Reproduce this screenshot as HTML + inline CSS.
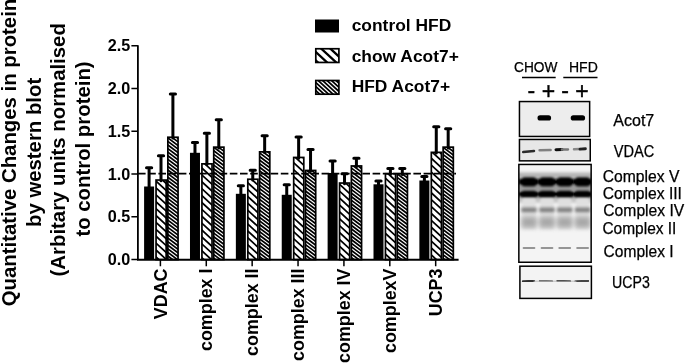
<!DOCTYPE html>
<html><head><meta charset="utf-8"><title>figure</title>
<style>
html,body{margin:0;padding:0;background:#fff;}
svg{display:block;}
text{font-family:"Liberation Sans",Arial,sans-serif;fill:#000;}
.b{font-weight:bold;}
</style></head><body>
<svg width="685" height="363" viewBox="0 0 685 363">
<defs>
<filter id="bl1" x="-20%" y="-50%" width="140%" height="200%"><feGaussianBlur stdDeviation="0.8"/></filter>
<filter id="bl05" x="-20%" y="-100%" width="140%" height="300%"><feGaussianBlur stdDeviation="0.5"/></filter>
<filter id="bl2" x="-20%" y="-50%" width="140%" height="200%"><feGaussianBlur stdDeviation="1.4"/></filter>
<filter id="bl3" x="-20%" y="-50%" width="140%" height="200%"><feGaussianBlur stdDeviation="2.5"/></filter>
<clipPath id="cpx"><rect x="518.85" y="164.45" width="72.3" height="97.8"/></clipPath>
</defs>
<rect width="685" height="363" fill="#fff"/>

<g class="b" font-size="20.35" text-anchor="middle">
<text transform="translate(16.1,152.5) rotate(-90)">Quantitative Changes in protein</text>
<text transform="translate(40.7,152.4) rotate(-90)">by western blot</text>
<text transform="translate(65.1,149.8) rotate(-90)">(Arbitary units normalised</text>
<text transform="translate(89.6,149.0) rotate(-90)">to control protein)</text>
</g>
<g class="b" font-size="16.2" text-anchor="end">
<text x="130.3" y="265.1">0.0</text>
<text x="130.3" y="222.4">0.5</text>
<text x="130.3" y="179.6">1.0</text>
<text x="130.3" y="136.9">1.5</text>
<text x="130.3" y="94.1">2.0</text>
<text x="130.3" y="51.4">2.5</text>
</g>
<rect x="144.10" y="186.5" width="10.0" height="73.1" fill="#000"/>
<clipPath id="c16"><rect x="156.05" y="180.05" width="10.1" height="79.55"/></clipPath>
<rect x="156.05" y="180.05" width="10.1" height="79.55" fill="#fff"/>
<path clip-path="url(#c16)" d="M155.05 159.45L167.15 170.58M155.05 166.35L167.15 177.48M155.05 173.25L167.15 184.38M155.05 180.15L167.15 191.28M155.05 187.05L167.15 198.18M155.05 193.95L167.15 205.08M155.05 200.85L167.15 211.98M155.05 207.75L167.15 218.88M155.05 214.65L167.15 225.78M155.05 221.55L167.15 232.68M155.05 228.45L167.15 239.58M155.05 235.35L167.15 246.48M155.05 242.25L167.15 253.38M155.05 249.15L167.15 260.28M155.05 256.05L167.15 267.18M155.05 262.95L167.15 274.08M155.05 269.85L167.15 280.98" stroke="#000" stroke-width="1.75" fill="none"/>
<rect x="156.05" y="180.05" width="10.1" height="79.55" fill="none" stroke="#000" stroke-width="1.7"/>
<clipPath id="c20"><rect x="167.85" y="137.25" width="10.2" height="122.35"/></clipPath>
<rect x="167.85" y="137.25" width="10.2" height="122.35" fill="#fff"/>
<path clip-path="url(#c20)" d="M166.85 122.76L179.05 131.91M166.85 126.34L179.05 135.49M166.85 129.92L179.05 139.07M166.85 133.50L179.05 142.65M166.85 137.08L179.05 146.23M166.85 140.66L179.05 149.81M166.85 144.24L179.05 153.39M166.85 147.82L179.05 156.97M166.85 151.40L179.05 160.55M166.85 154.98L179.05 164.13M166.85 158.56L179.05 167.71M166.85 162.14L179.05 171.29M166.85 165.72L179.05 174.87M166.85 169.30L179.05 178.45M166.85 172.88L179.05 182.03M166.85 176.46L179.05 185.61M166.85 180.04L179.05 189.19M166.85 183.62L179.05 192.77M166.85 187.20L179.05 196.35M166.85 190.78L179.05 199.93M166.85 194.36L179.05 203.51M166.85 197.94L179.05 207.09M166.85 201.52L179.05 210.67M166.85 205.10L179.05 214.25M166.85 208.68L179.05 217.83M166.85 212.26L179.05 221.41M166.85 215.84L179.05 224.99M166.85 219.42L179.05 228.57M166.85 223.00L179.05 232.15M166.85 226.58L179.05 235.73M166.85 230.16L179.05 239.31M166.85 233.74L179.05 242.89M166.85 237.32L179.05 246.47M166.85 240.90L179.05 250.05M166.85 244.48L179.05 253.63M166.85 248.06L179.05 257.21M166.85 251.64L179.05 260.79M166.85 255.22L179.05 264.37M166.85 258.80L179.05 267.95M166.85 262.38L179.05 271.53M166.85 265.96L179.05 275.11" stroke="#000" stroke-width="1.7" fill="none"/>
<rect x="167.85" y="137.25" width="10.2" height="122.35" fill="none" stroke="#000" stroke-width="1.7"/>
<path d="M149.10 188.0 V167.7 M146.50 167.7 H151.70" stroke="#000" stroke-width="3.0" fill="none" stroke-linecap="round"/>
<path d="M161.00 180.8 V155.7 M158.40 155.7 H163.60" stroke="#000" stroke-width="3.0" fill="none" stroke-linecap="round"/>
<path d="M172.90 138.0 V94.1 M170.30 94.1 H175.50" stroke="#000" stroke-width="3.0" fill="none" stroke-linecap="round"/>
<rect x="189.98" y="152.8" width="10.0" height="106.8" fill="#000"/>
<clipPath id="c28"><rect x="201.93" y="163.85" width="10.1" height="95.75"/></clipPath>
<rect x="201.93" y="163.85" width="10.1" height="95.75" fill="#fff"/>
<path clip-path="url(#c28)" d="M200.93 146.46L213.03 157.59M200.93 153.36L213.03 164.49M200.93 160.26L213.03 171.39M200.93 167.16L213.03 178.29M200.93 174.06L213.03 185.19M200.93 180.96L213.03 192.09M200.93 187.86L213.03 198.99M200.93 194.76L213.03 205.89M200.93 201.66L213.03 212.79M200.93 208.56L213.03 219.69M200.93 215.46L213.03 226.59M200.93 222.36L213.03 233.49M200.93 229.26L213.03 240.39M200.93 236.16L213.03 247.29M200.93 243.06L213.03 254.19M200.93 249.96L213.03 261.09M200.93 256.86L213.03 267.99M200.93 263.76L213.03 274.89M200.93 270.66L213.03 281.79" stroke="#000" stroke-width="1.75" fill="none"/>
<rect x="201.93" y="163.85" width="10.1" height="95.75" fill="none" stroke="#000" stroke-width="1.7"/>
<clipPath id="c32"><rect x="213.73" y="147.15" width="10.2" height="112.45"/></clipPath>
<rect x="213.73" y="147.15" width="10.2" height="112.45" fill="#fff"/>
<path clip-path="url(#c32)" d="M212.73 132.11L224.93 141.26M212.73 135.69L224.93 144.84M212.73 139.27L224.93 148.42M212.73 142.85L224.93 152.00M212.73 146.43L224.93 155.58M212.73 150.01L224.93 159.16M212.73 153.59L224.93 162.74M212.73 157.17L224.93 166.32M212.73 160.75L224.93 169.90M212.73 164.33L224.93 173.48M212.73 167.91L224.93 177.06M212.73 171.49L224.93 180.64M212.73 175.07L224.93 184.22M212.73 178.65L224.93 187.80M212.73 182.23L224.93 191.38M212.73 185.81L224.93 194.96M212.73 189.39L224.93 198.54M212.73 192.97L224.93 202.12M212.73 196.55L224.93 205.70M212.73 200.13L224.93 209.28M212.73 203.71L224.93 212.86M212.73 207.29L224.93 216.44M212.73 210.87L224.93 220.02M212.73 214.45L224.93 223.60M212.73 218.03L224.93 227.18M212.73 221.61L224.93 230.76M212.73 225.19L224.93 234.34M212.73 228.77L224.93 237.92M212.73 232.35L224.93 241.50M212.73 235.93L224.93 245.08M212.73 239.51L224.93 248.66M212.73 243.09L224.93 252.24M212.73 246.67L224.93 255.82M212.73 250.25L224.93 259.40M212.73 253.83L224.93 262.98M212.73 257.41L224.93 266.56M212.73 260.99L224.93 270.14M212.73 264.57L224.93 273.72" stroke="#000" stroke-width="1.7" fill="none"/>
<rect x="213.73" y="147.15" width="10.2" height="112.45" fill="none" stroke="#000" stroke-width="1.7"/>
<path d="M194.98 154.3 V142.6 M192.38 142.6 H197.58" stroke="#000" stroke-width="3.0" fill="none" stroke-linecap="round"/>
<path d="M206.88 164.6 V133.2 M204.28 133.2 H209.48" stroke="#000" stroke-width="3.0" fill="none" stroke-linecap="round"/>
<path d="M218.78 147.9 V119.8 M216.18 119.8 H221.38" stroke="#000" stroke-width="3.0" fill="none" stroke-linecap="round"/>
<rect x="235.86" y="193.8" width="10.0" height="65.8" fill="#000"/>
<clipPath id="c40"><rect x="247.81" y="179.25" width="10.1" height="80.35"/></clipPath>
<rect x="247.81" y="179.25" width="10.1" height="80.35" fill="#fff"/>
<path clip-path="url(#c40)" d="M246.81 161.07L258.91 172.20M246.81 167.97L258.91 179.10M246.81 174.87L258.91 186.00M246.81 181.77L258.91 192.90M246.81 188.67L258.91 199.80M246.81 195.57L258.91 206.70M246.81 202.47L258.91 213.60M246.81 209.37L258.91 220.50M246.81 216.27L258.91 227.40M246.81 223.17L258.91 234.30M246.81 230.07L258.91 241.20M246.81 236.97L258.91 248.10M246.81 243.87L258.91 255.00M246.81 250.77L258.91 261.90M246.81 257.67L258.91 268.80M246.81 264.57L258.91 275.70M246.81 271.47L258.91 282.60" stroke="#000" stroke-width="1.75" fill="none"/>
<rect x="247.81" y="179.25" width="10.1" height="80.35" fill="none" stroke="#000" stroke-width="1.7"/>
<clipPath id="c44"><rect x="259.61" y="151.85" width="10.2" height="107.75"/></clipPath>
<rect x="259.61" y="151.85" width="10.2" height="107.75" fill="#fff"/>
<path clip-path="url(#c44)" d="M258.61 137.88L270.81 147.03M258.61 141.46L270.81 150.61M258.61 145.04L270.81 154.19M258.61 148.62L270.81 157.77M258.61 152.20L270.81 161.35M258.61 155.78L270.81 164.93M258.61 159.36L270.81 168.51M258.61 162.94L270.81 172.09M258.61 166.52L270.81 175.67M258.61 170.10L270.81 179.25M258.61 173.68L270.81 182.83M258.61 177.26L270.81 186.41M258.61 180.84L270.81 189.99M258.61 184.42L270.81 193.57M258.61 188.00L270.81 197.15M258.61 191.58L270.81 200.73M258.61 195.16L270.81 204.31M258.61 198.74L270.81 207.89M258.61 202.32L270.81 211.47M258.61 205.90L270.81 215.05M258.61 209.48L270.81 218.63M258.61 213.06L270.81 222.21M258.61 216.64L270.81 225.79M258.61 220.22L270.81 229.37M258.61 223.80L270.81 232.95M258.61 227.38L270.81 236.53M258.61 230.96L270.81 240.11M258.61 234.54L270.81 243.69M258.61 238.12L270.81 247.27M258.61 241.70L270.81 250.85M258.61 245.28L270.81 254.43M258.61 248.86L270.81 258.01M258.61 252.44L270.81 261.59M258.61 256.02L270.81 265.17M258.61 259.60L270.81 268.75M258.61 263.18L270.81 272.33" stroke="#000" stroke-width="1.7" fill="none"/>
<rect x="259.61" y="151.85" width="10.2" height="107.75" fill="none" stroke="#000" stroke-width="1.7"/>
<path d="M240.86 195.3 V185.8 M238.26 185.8 H243.46" stroke="#000" stroke-width="3.0" fill="none" stroke-linecap="round"/>
<path d="M252.76 180.0 V170.2 M250.16 170.2 H255.36" stroke="#000" stroke-width="3.0" fill="none" stroke-linecap="round"/>
<path d="M264.66 152.6 V135.8 M262.06 135.8 H267.26" stroke="#000" stroke-width="3.0" fill="none" stroke-linecap="round"/>
<rect x="281.74" y="194.8" width="10.0" height="64.8" fill="#000"/>
<clipPath id="c52"><rect x="293.69" y="157.45" width="10.1" height="102.15"/></clipPath>
<rect x="293.69" y="157.45" width="10.1" height="102.15" fill="#fff"/>
<path clip-path="url(#c52)" d="M292.69 134.27L304.79 145.41M292.69 141.17L304.79 152.31M292.69 148.07L304.79 159.21M292.69 154.97L304.79 166.11M292.69 161.87L304.79 173.01M292.69 168.77L304.79 179.91M292.69 175.67L304.79 186.81M292.69 182.57L304.79 193.71M292.69 189.47L304.79 200.61M292.69 196.37L304.79 207.51M292.69 203.27L304.79 214.41M292.69 210.17L304.79 221.31M292.69 217.07L304.79 228.21M292.69 223.97L304.79 235.11M292.69 230.87L304.79 242.01M292.69 237.77L304.79 248.91M292.69 244.67L304.79 255.81M292.69 251.57L304.79 262.71M292.69 258.47L304.79 269.61M292.69 265.37L304.79 276.51M292.69 272.27L304.79 283.41" stroke="#000" stroke-width="1.75" fill="none"/>
<rect x="293.69" y="157.45" width="10.1" height="102.15" fill="none" stroke="#000" stroke-width="1.7"/>
<clipPath id="c56"><rect x="305.49" y="170.45" width="10.2" height="89.15"/></clipPath>
<rect x="305.49" y="170.45" width="10.2" height="89.15" fill="#fff"/>
<path clip-path="url(#c56)" d="M304.49 157.97L316.69 167.12M304.49 161.55L316.69 170.70M304.49 165.13L316.69 174.28M304.49 168.71L316.69 177.86M304.49 172.29L316.69 181.44M304.49 175.87L316.69 185.02M304.49 179.45L316.69 188.60M304.49 183.03L316.69 192.18M304.49 186.61L316.69 195.76M304.49 190.19L316.69 199.34M304.49 193.77L316.69 202.92M304.49 197.35L316.69 206.50M304.49 200.93L316.69 210.08M304.49 204.51L316.69 213.66M304.49 208.09L316.69 217.24M304.49 211.67L316.69 220.82M304.49 215.25L316.69 224.40M304.49 218.83L316.69 227.98M304.49 222.41L316.69 231.56M304.49 225.99L316.69 235.14M304.49 229.57L316.69 238.72M304.49 233.15L316.69 242.30M304.49 236.73L316.69 245.88M304.49 240.31L316.69 249.46M304.49 243.89L316.69 253.04M304.49 247.47L316.69 256.62M304.49 251.05L316.69 260.20M304.49 254.63L316.69 263.78M304.49 258.21L316.69 267.36M304.49 261.79L316.69 270.94M304.49 265.37L316.69 274.52" stroke="#000" stroke-width="1.7" fill="none"/>
<rect x="305.49" y="170.45" width="10.2" height="89.15" fill="none" stroke="#000" stroke-width="1.7"/>
<path d="M286.74 196.3 V184.8 M284.14 184.8 H289.34" stroke="#000" stroke-width="3.0" fill="none" stroke-linecap="round"/>
<path d="M298.64 158.2 V137.1 M296.04 137.1 H301.24" stroke="#000" stroke-width="3.0" fill="none" stroke-linecap="round"/>
<path d="M310.54 171.2 V149.6 M307.94 149.6 H313.14" stroke="#000" stroke-width="3.0" fill="none" stroke-linecap="round"/>
<rect x="327.62" y="173.0" width="10.0" height="86.6" fill="#000"/>
<clipPath id="c64"><rect x="339.57" y="183.05" width="10.1" height="76.55"/></clipPath>
<rect x="339.57" y="183.05" width="10.1" height="76.55" fill="#fff"/>
<path clip-path="url(#c64)" d="M338.57 162.68L350.67 173.82M338.57 169.58L350.67 180.72M338.57 176.48L350.67 187.62M338.57 183.38L350.67 194.52M338.57 190.28L350.67 201.42M338.57 197.18L350.67 208.32M338.57 204.08L350.67 215.22M338.57 210.98L350.67 222.12M338.57 217.88L350.67 229.02M338.57 224.78L350.67 235.92M338.57 231.68L350.67 242.82M338.57 238.58L350.67 249.72M338.57 245.48L350.67 256.62M338.57 252.38L350.67 263.52M338.57 259.28L350.67 270.42M338.57 266.18L350.67 277.32" stroke="#000" stroke-width="1.75" fill="none"/>
<rect x="339.57" y="183.05" width="10.1" height="76.55" fill="none" stroke="#000" stroke-width="1.7"/>
<clipPath id="c68"><rect x="351.37" y="165.95" width="10.2" height="93.65"/></clipPath>
<rect x="351.37" y="165.95" width="10.2" height="93.65" fill="#fff"/>
<path clip-path="url(#c68)" d="M350.37 153.00L362.57 162.15M350.37 156.58L362.57 165.73M350.37 160.16L362.57 169.31M350.37 163.74L362.57 172.89M350.37 167.32L362.57 176.47M350.37 170.90L362.57 180.05M350.37 174.48L362.57 183.63M350.37 178.06L362.57 187.21M350.37 181.64L362.57 190.79M350.37 185.22L362.57 194.37M350.37 188.80L362.57 197.95M350.37 192.38L362.57 201.53M350.37 195.96L362.57 205.11M350.37 199.54L362.57 208.69M350.37 203.12L362.57 212.27M350.37 206.70L362.57 215.85M350.37 210.28L362.57 219.43M350.37 213.86L362.57 223.01M350.37 217.44L362.57 226.59M350.37 221.02L362.57 230.17M350.37 224.60L362.57 233.75M350.37 228.18L362.57 237.33M350.37 231.76L362.57 240.91M350.37 235.34L362.57 244.49M350.37 238.92L362.57 248.07M350.37 242.50L362.57 251.65M350.37 246.08L362.57 255.23M350.37 249.66L362.57 258.81M350.37 253.24L362.57 262.39M350.37 256.82L362.57 265.97M350.37 260.40L362.57 269.55M350.37 263.98L362.57 273.13" stroke="#000" stroke-width="1.7" fill="none"/>
<rect x="351.37" y="165.95" width="10.2" height="93.65" fill="none" stroke="#000" stroke-width="1.7"/>
<path d="M332.62 174.5 V160.9 M330.02 160.9 H335.22" stroke="#000" stroke-width="3.0" fill="none" stroke-linecap="round"/>
<path d="M344.52 183.8 V173.7 M341.92 173.7 H347.12" stroke="#000" stroke-width="3.0" fill="none" stroke-linecap="round"/>
<path d="M356.42 166.7 V158.2 M353.82 158.2 H359.02" stroke="#000" stroke-width="3.0" fill="none" stroke-linecap="round"/>
<rect x="373.50" y="184.3" width="10.0" height="75.3" fill="#000"/>
<clipPath id="c76"><rect x="385.45" y="173.75" width="10.1" height="85.85"/></clipPath>
<rect x="385.45" y="173.75" width="10.1" height="85.85" fill="#fff"/>
<path clip-path="url(#c76)" d="M384.45 156.59L396.55 167.73M384.45 163.49L396.55 174.63M384.45 170.39L396.55 181.53M384.45 177.29L396.55 188.43M384.45 184.19L396.55 195.33M384.45 191.09L396.55 202.23M384.45 197.99L396.55 209.13M384.45 204.89L396.55 216.03M384.45 211.79L396.55 222.93M384.45 218.69L396.55 229.83M384.45 225.59L396.55 236.73M384.45 232.49L396.55 243.63M384.45 239.39L396.55 250.53M384.45 246.29L396.55 257.43M384.45 253.19L396.55 264.33M384.45 260.09L396.55 271.23M384.45 266.99L396.55 278.13" stroke="#000" stroke-width="1.75" fill="none"/>
<rect x="385.45" y="173.75" width="10.1" height="85.85" fill="none" stroke="#000" stroke-width="1.7"/>
<clipPath id="c80"><rect x="397.25" y="173.75" width="10.2" height="85.85"/></clipPath>
<rect x="397.25" y="173.75" width="10.2" height="85.85" fill="#fff"/>
<path clip-path="url(#c80)" d="M396.25 158.77L408.45 167.92M396.25 162.35L408.45 171.50M396.25 165.93L408.45 175.08M396.25 169.51L408.45 178.66M396.25 173.09L408.45 182.24M396.25 176.67L408.45 185.82M396.25 180.25L408.45 189.40M396.25 183.83L408.45 192.98M396.25 187.41L408.45 196.56M396.25 190.99L408.45 200.14M396.25 194.57L408.45 203.72M396.25 198.15L408.45 207.30M396.25 201.73L408.45 210.88M396.25 205.31L408.45 214.46M396.25 208.89L408.45 218.04M396.25 212.47L408.45 221.62M396.25 216.05L408.45 225.20M396.25 219.63L408.45 228.78M396.25 223.21L408.45 232.36M396.25 226.79L408.45 235.94M396.25 230.37L408.45 239.52M396.25 233.95L408.45 243.10M396.25 237.53L408.45 246.68M396.25 241.11L408.45 250.26M396.25 244.69L408.45 253.84M396.25 248.27L408.45 257.42M396.25 251.85L408.45 261.00M396.25 255.43L408.45 264.58M396.25 259.01L408.45 268.16M396.25 262.59L408.45 271.74" stroke="#000" stroke-width="1.7" fill="none"/>
<rect x="397.25" y="173.75" width="10.2" height="85.85" fill="none" stroke="#000" stroke-width="1.7"/>
<path d="M378.50 185.8 V181.0 M375.90 181.0 H381.10" stroke="#000" stroke-width="3.0" fill="none" stroke-linecap="round"/>
<path d="M390.40 174.5 V168.5 M387.80 168.5 H393.00" stroke="#000" stroke-width="3.0" fill="none" stroke-linecap="round"/>
<path d="M402.30 174.5 V168.5 M399.70 168.5 H404.90" stroke="#000" stroke-width="3.0" fill="none" stroke-linecap="round"/>
<rect x="419.38" y="180.5" width="10.0" height="79.1" fill="#000"/>
<clipPath id="c88"><rect x="431.33" y="152.35" width="10.1" height="107.25"/></clipPath>
<rect x="431.33" y="152.35" width="10.1" height="107.25" fill="#fff"/>
<path clip-path="url(#c88)" d="M430.33 129.80L442.43 140.94M430.33 136.70L442.43 147.84M430.33 143.60L442.43 154.74M430.33 150.50L442.43 161.64M430.33 157.40L442.43 168.54M430.33 164.30L442.43 175.44M430.33 171.20L442.43 182.34M430.33 178.10L442.43 189.24M430.33 185.00L442.43 196.14M430.33 191.90L442.43 203.04M430.33 198.80L442.43 209.94M430.33 205.70L442.43 216.84M430.33 212.60L442.43 223.74M430.33 219.50L442.43 230.64M430.33 226.40L442.43 237.54M430.33 233.30L442.43 244.44M430.33 240.20L442.43 251.34M430.33 247.10L442.43 258.24M430.33 254.00L442.43 265.14M430.33 260.90L442.43 272.04M430.33 267.80L442.43 278.94" stroke="#000" stroke-width="1.75" fill="none"/>
<rect x="431.33" y="152.35" width="10.1" height="107.25" fill="none" stroke="#000" stroke-width="1.7"/>
<clipPath id="c92"><rect x="443.13" y="147.15" width="10.2" height="112.45"/></clipPath>
<rect x="443.13" y="147.15" width="10.2" height="112.45" fill="#fff"/>
<path clip-path="url(#c92)" d="M442.13 132.32L454.33 141.47M442.13 135.90L454.33 145.05M442.13 139.48L454.33 148.63M442.13 143.06L454.33 152.21M442.13 146.64L454.33 155.79M442.13 150.22L454.33 159.37M442.13 153.80L454.33 162.95M442.13 157.38L454.33 166.53M442.13 160.96L454.33 170.11M442.13 164.54L454.33 173.69M442.13 168.12L454.33 177.27M442.13 171.70L454.33 180.85M442.13 175.28L454.33 184.43M442.13 178.86L454.33 188.01M442.13 182.44L454.33 191.59M442.13 186.02L454.33 195.17M442.13 189.60L454.33 198.75M442.13 193.18L454.33 202.33M442.13 196.76L454.33 205.91M442.13 200.34L454.33 209.49M442.13 203.92L454.33 213.07M442.13 207.50L454.33 216.65M442.13 211.08L454.33 220.23M442.13 214.66L454.33 223.81M442.13 218.24L454.33 227.39M442.13 221.82L454.33 230.97M442.13 225.40L454.33 234.55M442.13 228.98L454.33 238.13M442.13 232.56L454.33 241.71M442.13 236.14L454.33 245.29M442.13 239.72L454.33 248.87M442.13 243.30L454.33 252.45M442.13 246.88L454.33 256.03M442.13 250.46L454.33 259.61M442.13 254.04L454.33 263.19M442.13 257.62L454.33 266.77M442.13 261.20L454.33 270.35M442.13 264.78L454.33 273.93" stroke="#000" stroke-width="1.7" fill="none"/>
<rect x="443.13" y="147.15" width="10.2" height="112.45" fill="none" stroke="#000" stroke-width="1.7"/>
<path d="M424.38 182.0 V176.5 M421.78 176.5 H426.98" stroke="#000" stroke-width="3.0" fill="none" stroke-linecap="round"/>
<path d="M436.28 153.1 V126.8 M433.68 126.8 H438.88" stroke="#000" stroke-width="3.0" fill="none" stroke-linecap="round"/>
<path d="M448.18 147.9 V128.8 M445.58 128.8 H450.78" stroke="#000" stroke-width="3.0" fill="none" stroke-linecap="round"/>
<path d="M137.9 45.2 V259.6" stroke="#000" stroke-width="1.8" fill="none"/>
<path d="M137.0 259.8 H458.6" stroke="#000" stroke-width="2.1" fill="none"/>
<path d="M131.4 259.60 H137.9 M131.4 216.85 H137.9 M131.4 174.10 H137.9 M131.4 131.35 H137.9 M131.4 88.60 H137.9 M131.4 45.85 H137.9 M160.40 259.6 V266.2 M206.28 259.6 V266.2 M252.16 259.6 V266.2 M298.04 259.6 V266.2 M343.92 259.6 V266.2 M389.80 259.6 V266.2 M435.68 259.6 V266.2 " stroke="#000" stroke-width="1.5" fill="none"/>
<path d="M138 173.6 H456" stroke="#000" stroke-width="1.6" stroke-dasharray="7.6 2.6" fill="none"/>
<g class="b" font-size="17.9" text-anchor="end">
<text transform="translate(166.60,268.5) rotate(-90)">VDAC</text>
<text transform="translate(212.48,268.5) rotate(-90)">complex I</text>
<text transform="translate(258.36,268.5) rotate(-90)">complex II</text>
<text transform="translate(304.24,268.5) rotate(-90)">complex III</text>
<text transform="translate(350.12,268.5) rotate(-90)">complex IV</text>
<text transform="translate(396.00,268.5) rotate(-90)">complexV</text>
<text transform="translate(441.88,268.5) rotate(-90)">UCP3</text>
</g>
<rect x="315" y="19.5" width="24" height="13" fill="#000"/>
<clipPath id="c113"><rect x="315.80" y="48.75" width="23.1" height="13.70"/></clipPath>
<rect x="315.80" y="48.75" width="23.1" height="13.70" fill="#fff"/>
<path clip-path="url(#c113)" d="M314.80 17.52L339.90 40.61M314.80 25.92L339.90 49.01M314.80 34.32L339.90 57.41M314.80 42.72L339.90 65.81M314.80 51.12L339.90 74.21M314.80 59.52L339.90 82.61M314.80 67.92L339.90 91.01M314.80 76.32L339.90 99.41" stroke="#000" stroke-width="2.3" fill="none"/>
<rect x="315.80" y="48.75" width="23.1" height="13.70" fill="none" stroke="#000" stroke-width="1.7"/>
<clipPath id="c117"><rect x="315.80" y="80.50" width="23.1" height="13.70"/></clipPath>
<rect x="315.80" y="80.50" width="23.1" height="13.70" fill="#fff"/>
<path clip-path="url(#c117)" d="M314.80 52.82L339.90 75.91M314.80 56.92L339.90 80.01M314.80 61.02L339.90 84.11M314.80 65.12L339.90 88.21M314.80 69.22L339.90 92.31M314.80 73.32L339.90 96.41M314.80 77.42L339.90 100.51M314.80 81.52L339.90 104.61M314.80 85.62L339.90 108.71M314.80 89.72L339.90 112.81M314.80 93.82L339.90 116.91M314.80 97.92L339.90 121.01" stroke="#000" stroke-width="1.75" fill="none"/>
<rect x="315.80" y="80.50" width="23.1" height="13.70" fill="none" stroke="#000" stroke-width="1.7"/>
<g class="b" font-size="17.4">
<text x="351.7" y="31.3">control HFD</text>
<text x="351.7" y="61.8">chow Acot7+</text>
<text x="351.7" y="92.4">HFD Acot7+</text>
</g>
<g font-size="14.6">
<text x="514.0" y="71.6" textLength="43.4" lengthAdjust="spacingAndGlyphs" stroke="#000" stroke-width="0.25">CHOW</text>
<text x="569.0" y="71.6" textLength="28.8" lengthAdjust="spacingAndGlyphs" stroke="#000" stroke-width="0.25">HFD</text>
</g>
<path d="M522 77.4 H555.7 M563.3 77.4 H597.5" stroke="#000" stroke-width="1.5"/>
<g font-size="23" text-anchor="middle" stroke="#000" stroke-width="0.4"><text x="531.4" y="98">-</text><text x="548.35" y="99.4">+</text><text x="565.1" y="98">-</text><text x="581.95" y="99.4">+</text></g>
<rect x="519.45" y="101.55" width="70.2" height="34.9" fill="#ededed" stroke="#000" stroke-width="1.5"/>
<g filter="url(#bl05)"><rect x="537.5" y="115.2" width="13.6" height="5.3" rx="2.6" fill="#000"/><rect x="570.7" y="115.2" width="14.4" height="5.3" rx="2.6" fill="#000"/></g>
<rect x="519.45" y="139.45" width="70.8" height="21.4" fill="#e7e7e7" stroke="#000" stroke-width="1.5"/>
<g filter="url(#bl05)" stroke-width="2.5" stroke-linecap="round" fill="none"><path d="M523.2 152.1 L534 150.9" stroke="#2a2a2a"/><path d="M539.6 150.3 L550.6 150" stroke="#808080"/><path d="M556 149.7 L562 149.6" stroke="#111" stroke-width="3"/><path d="M562 149.6 L568 149.4" stroke="#777"/><path d="M574 149.3 L580 149.1" stroke="#888"/><path d="M580 149.1 L585.4 148.8" stroke="#222" stroke-width="2.9"/></g>
<rect x="518.85" y="164.45" width="72.3" height="97.8" fill="#f4f4f4"/>
<g clip-path="url(#cpx)">
<rect x="515" y="172.5" width="80" height="6" fill="#b4b4b4" filter="url(#bl2)"/>
<rect x="515" y="185" width="80" height="6" fill="#9c9c9c" filter="url(#bl1)"/>
<rect x="515" y="196" width="80" height="6.5" fill="#bdbdbd" filter="url(#bl2)"/>
<g filter="url(#bl1)" fill="#000"><rect x="515" y="178.8" width="80" height="6" fill="#161616"/><rect x="520.5" y="177.2" width="17" height="9.2" rx="4.3"/><rect x="538.5" y="177.2" width="17" height="9.2" rx="4.3"/><rect x="556.2" y="177.2" width="17" height="9.2" rx="4.3"/><rect x="574.1" y="177.2" width="17" height="9.2" rx="4.3"/></g>
<g filter="url(#bl1)" fill="#000"><rect x="515" y="191.6" width="80" height="5" fill="#161616"/><rect x="520.5" y="190.4" width="17" height="7.6" rx="3.6"/><rect x="538.5" y="190.4" width="17" height="7.6" rx="3.6"/><rect x="556.2" y="190.4" width="17" height="7.6" rx="3.6"/><rect x="574.1" y="190.4" width="17" height="7.6" rx="3.6"/></g>
<g filter="url(#bl2)" fill="#e0e0e0"><rect x="522.0" y="198" width="14" height="31"/><rect x="540.0" y="198" width="14" height="31"/><rect x="557.7" y="198" width="14" height="31"/><rect x="575.6" y="198" width="14" height="31"/></g>
<g filter="url(#bl2)" fill="#808080"><rect x="521.4" y="207.6" width="15.2" height="4.6"/><rect x="539.4" y="207.6" width="15.2" height="4.6"/><rect x="557.1" y="207.6" width="15.2" height="4.6"/><rect x="575.0" y="207.6" width="15.2" height="4.6"/></g>
<g filter="url(#bl3)" fill="#a8a8a8"><rect x="521.5" y="217" width="15" height="10.5"/><rect x="539.5" y="217" width="15" height="10.5"/><rect x="557.2" y="217" width="15" height="10.5"/><rect x="575.1" y="217" width="15" height="10.5"/></g>
<g filter="url(#bl05)" fill="#959595"><rect x="522.6" y="247.0" width="12.8" height="2" rx="1"/><rect x="540.6" y="247.0" width="12.8" height="2" rx="1"/><rect x="558.3" y="247.0" width="12.8" height="2" rx="1"/><rect x="576.2" y="247.0" width="12.8" height="2" rx="1"/></g>
</g>
<rect x="518.85" y="164.45" width="72.3" height="97.8" fill="none" stroke="#000" stroke-width="1.5"/>
<rect x="519.9" y="266.2" width="71.5" height="32.2" fill="#f3f3f3" stroke="#000" stroke-width="1.5"/>
<g filter="url(#bl05)" stroke-width="2.3" stroke-linecap="round" fill="none"><path d="M523 281.5 L534 281" stroke="#333"/><path d="M540 281 L552 281.3" stroke="#555"/><path d="M557.5 281 L570 281.3" stroke="#222"/><path d="M575.5 281.4 L588 281" stroke="#444"/><path d="M534 281.2 H576" stroke="#bbb" stroke-width="1"/></g>
<g font-size="15.6">
<text x="613.3" y="126.3" textLength="41" lengthAdjust="spacingAndGlyphs" stroke="#000" stroke-width="0.25">Acot7</text>
<text x="613.7" y="156.7" textLength="40.6" lengthAdjust="spacingAndGlyphs" stroke="#000" stroke-width="0.25">VDAC</text>
<text x="602.7" y="182.1" textLength="76.7" lengthAdjust="spacingAndGlyphs" stroke="#000" stroke-width="0.25">Complex V</text>
<text x="602.7" y="199.3" textLength="79.3" lengthAdjust="spacingAndGlyphs" stroke="#000" stroke-width="0.25">Complex III</text>
<text x="603.3" y="216.4" textLength="81" lengthAdjust="spacingAndGlyphs" stroke="#000" stroke-width="0.25">Complex IV</text>
<text x="602.4" y="234.4" textLength="74" lengthAdjust="spacingAndGlyphs" stroke="#000" stroke-width="0.25">Complex II</text>
<text x="603.6" y="257.0" textLength="70" lengthAdjust="spacingAndGlyphs" stroke="#000" stroke-width="0.25">Complex I</text>
<text x="612.0" y="288.0" textLength="37.8" lengthAdjust="spacingAndGlyphs" stroke="#000" stroke-width="0.25">UCP3</text>
</g>
</svg></body></html>
